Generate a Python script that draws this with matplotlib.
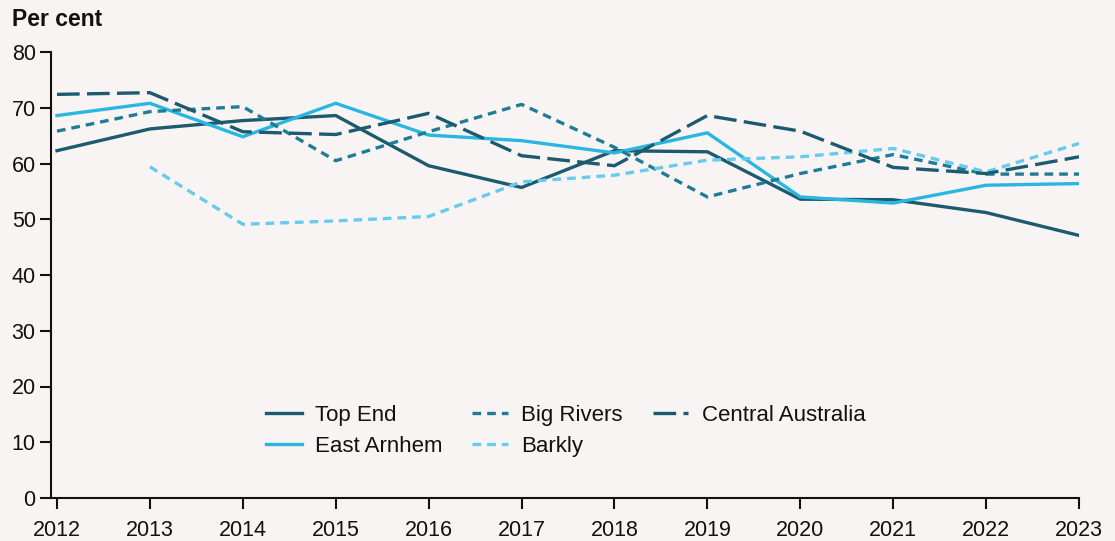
import matplotlib
matplotlib.use("Agg")
import matplotlib.pyplot as plt
import numpy as np

years = list(range(2012, 2024))

top_end = [62.3, 66.2, 67.7, 68.6, 59.6, 55.7, 62.3, 62.1, 53.6, 53.5, 51.2, 47.1]
east_arnhem = [68.6, 70.8, 64.8, 70.8, 65.1, 64.1, 61.9, 65.5, 54.0, 52.9, 56.1, 56.4]
big_rivers = [65.8, 69.3, 70.2, 60.5, 65.7, 70.6, 62.9, 54.0, 58.2, 61.6, 58.1, 58.1]
central_australia = [72.4, 72.7, 65.7, 65.2, 69.0, 61.4, 59.6, 68.6, 65.8, 59.3, 58.2, 61.2]
barkly = [None, 59.4, 49.1, 49.7, 50.5, 56.7, 57.9, 60.6, 61.2, 62.7, 58.5, 63.6]

y_ticks = [0, 10, 20, 30, 40, 50, 60, 70, 80]

BG = "#f9f4f4"
DARK = "#1b5a6f"
MID = "#1f7c96"
BRIGHT = "#29b6e1"
LIGHT = "#66cbec"
INK = "#111111"

plt.rcParams["font.family"] = ["Liberation Sans", "DejaVu Sans"]

fig = plt.figure(figsize=(11.15, 5.41), dpi=100, facecolor=BG)
ax = fig.add_axes([51 / 1115, 1 - 498 / 541, (1079 - 51) / 1115, (498 - 52) / 541])
ax.set_facecolor(BG)

lw = 2.4


def arr(v):
    return np.array([np.nan if x is None else x for x in v], dtype=float)


ax.plot(years, arr(top_end), color=DARK, lw=lw, label="Top End", solid_joinstyle="miter")
ax.plot(years, arr(east_arnhem), color=BRIGHT, lw=lw, label="East Arnhem", solid_joinstyle="miter")
ax.plot(years, arr(big_rivers), color=MID, lw=lw, label="Big Rivers", dashes=(2.6, 1.8))
ax.plot(years, arr(barkly), color=LIGHT, lw=lw, label="Barkly", dashes=(2.6, 1.8))
ax.plot(years, arr(central_australia), color=DARK, lw=lw, label="Central Australia",
        dashes=(6.8, 2.2))

x_per_year = (1079 - 57) / 11
ax.set_xlim(2012 - 6 / x_per_year, 2023)
ax.set_ylim(0, 80)
ax.set_xticks(years)
ax.set_xticklabels([str(y) for y in years])
ax.set_yticks(y_ticks)

for s in ["top", "right"]:
    ax.spines[s].set_visible(False)
for s in ["left", "bottom"]:
    ax.spines[s].set_linewidth(1.5)
    ax.spines[s].set_color(INK)

ax.tick_params(axis="both", labelsize=15.5, width=1.5, length=8, color=INK,
               labelcolor=INK)
ax.tick_params(axis="x", pad=8)
ax.tick_params(axis="y", pad=3)

fig.text(12 / 1115, 1 - 19 / 541, "Per cent", fontsize=16.5, fontweight="bold",
         color=INK, va="center", ha="left")

leg = ax.legend(ncol=3, loc="upper left", bbox_to_anchor=(266 / 1115, 1 - 405 / 541),
                bbox_transform=fig.transFigure, frameon=False, borderpad=0,
                borderaxespad=0, fontsize=16, handlelength=1.6, handletextpad=0.6,
                columnspacing=1.35, labelspacing=0.45)
for t in leg.get_texts():
    t.set_color(INK)

fig.savefig("out.png", dpi=100, facecolor=BG)
